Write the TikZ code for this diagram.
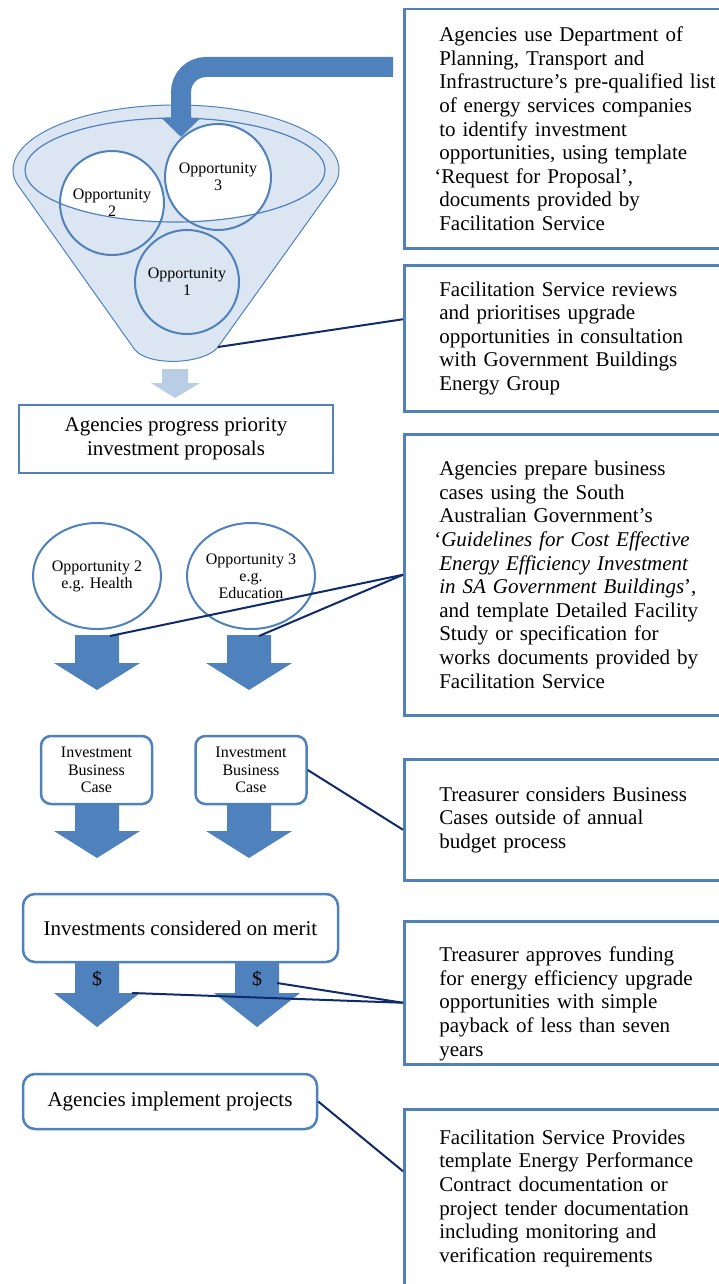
\documentclass[tikz,border=0pt]{standalone}
\usepackage{fontspec}
\setmainfont{Liberation Serif}
\usetikzlibrary{arrows.meta,positioning,shapes.geometric}

\definecolor{accent}{HTML}{4F81BD}
\definecolor{funnelfill}{HTML}{DCE6F2}
\definecolor{pale}{HTML}{B9CDE5}
\definecolor{navy}{HTML}{0F2B6B}

\begin{document}
\begin{tikzpicture}[x=1pt,y=-1pt]
  \tikzset{note/.style={draw=accent, line width=2.5pt, rectangle, align=left,
      text width=300pt, inner xsep=35pt, anchor=north west,
      font=\fontsize{21}{23.6}\selectfont},
    stepbox/.style={draw=accent, line width=2.5pt, rectangle, fill=white,
      align=center, font=\fontsize{21}{23.6}\selectfont},
    roundbox/.style={stepbox, rounded corners=12pt},
    bizcase/.style={draw=accent, line width=2.5pt, rounded corners=10pt, fill=white,
      align=center, minimum width=111pt, minimum height=68pt, inner sep=0pt,
      font=\fontsize{16}{17.5}\selectfont},
    opp/.style={circle, draw=accent, line width=2pt, align=center, inner sep=0pt,
      minimum size=104pt, font=\fontsize{16}{17}\selectfont},
    option/.style={ellipse, draw=accent, line width=2pt, fill=white, align=center,
      inner sep=0pt, minimum width=128pt, minimum height=106pt,
      font=\fontsize{16}{17}\selectfont},
    link/.style={navy, line width=2pt},
    pics/downarrow/.style 2 args={code={
        \fill[accent] (-22,0) -- (22,0) -- (22,#1) -- (43,#1) -- (0,#1+#2)
          -- (-43,#1) -- (-22,#1) -- cycle;}}}
  \useasboundingbox[fill=white] (0,0) rectangle (719,1284);

  % right hand column
  \node[note, minimum height=239pt] (find) at (403,8) {Agencies use Department of\\Planning, Transport and\\Infrastructure’s pre-qualified list\\of energy services companies\\to identify investment\\opportunities, using template\\\hspace*{-5pt}‘Request for Proposal’,\\documents provided by\\Facilitation Service};
  \node[note, minimum height=146pt] (review) at (403,264) {Facilitation Service reviews\\and prioritises upgrade\\opportunities in consultation\\with Government Buildings\\Energy Group};
  \node[note, minimum height=281pt] (prepare) at (403,433) {Agencies prepare business\\cases using the South\\Australian Government’s\\\hspace*{-5pt}‘\textit{Guidelines for Cost Effective}\\\textit{Energy Efficiency Investment}\\\textit{in SA Government Buildings}’,\\and template Detailed Facility\\Study or specification for\\works documents provided by\\Facilitation Service};
  \node[note, minimum height=121pt] (treasurer) at (403,758) {Treasurer considers Business\\Cases outside of annual\\budget process};
  \node[note, minimum height=143pt] (approve) at (403,920) {\rule{0pt}{37pt}Treasurer approves funding\\for energy efficiency upgrade\\opportunities with simple\\payback of less than seven\\years};
  \node[note, minimum height=178pt] (provide) at (403,1108) {Facilitation Service Provides\\template Energy Performance\\Contract documentation or\\project tender documentation\\including monitoring and\\verification requirements};

  % funnel
  \draw[accent, line width=1pt, fill=funnelfill] (13,170)
    arc[start angle=180, end angle=360, x radius=163, y radius=65]
    .. controls (339,178) and (336,183) .. (332,188) -- (218,347)
    .. controls (205,364) and (150,367) .. (135,350) -- (20,188)
    .. controls (16,183) and (13,178) .. (13,170) -- cycle;
  \coordinate (spout) at (218,347);
  \begin{scope}
    \clip (175,170) ellipse [x radius=150, y radius=52];
    \fill[white] (112,203) circle [radius=52];
    \fill[white] (218,177) circle [radius=53];
  \end{scope}
  \node[opp] (oppB) at (112,203) {Opportunity\\2};
  \node[opp, minimum size=106pt] (oppC) at (218,177) {Opportunity\\3};
  \node[opp] (oppA) at (187,282) {Opportunity\\1};
  \draw[accent, line width=1.2pt] (175,170) ellipse [x radius=150, y radius=52];

  \coordinate (feedin) at (393,67);
  \coordinate (mouth) at (181,137);
  \draw[accent, line width=20pt, rounded corners=25pt,
    -{Triangle[width=38pt,length=19pt]}] (feedin) -- (181,67) -- (mouth);
  \fill[pale] (162,369) -- (188,369) -- (188,383) -- (200,383) -- (175,398)
    -- (151,383) -- (162,383) -- cycle;

  % left hand column
  \node[stepbox, minimum width=314pt, minimum height=68pt] (progress) at (176,439) {Agencies progress priority\\investment proposals};

  \node[option] (health) at (97,576) {Opportunity 2\\e.g. Health};
  \node[option, right=24pt of health] (education) {Opportunity 3\\e.g.\\Education};
  \pic (arrA) at (97,635) {downarrow={28}{27}};
  \pic (arrB) at (249,635) {downarrow={28}{27}};
  \coordinate (caseA) at (110,636);
  \coordinate (caseB) at (259,636);

  \node[bizcase] (bizA) at (96.5,770) {Investment\\Business\\Case};
  \node[bizcase, right=41pt of bizA] (bizB) {Investment\\Business\\Case};
  \pic (arrC) at (97,804) {downarrow={27}{27}};
  \pic (arrD) at (249,804) {downarrow={27}{27}};

  \pic (payarrA) at (97,962) {downarrow={31}{34}};
  \pic (payarrB) at (257,962) {downarrow={31}{34}};
  \node[roundbox, minimum width=315pt, minimum height=68pt] (merit) at (180.5,928) {Investments considered on merit};
  \node[font=\fontsize{20}{22}\selectfont] (dollarA) at (97,979) {\$};
  \node[font=\fontsize{20}{22}\selectfont] (dollarB) at (257,979) {\$};
  \coordinate (payA) at (132,993);
  \coordinate (payB) at (277,983);

  \node[roundbox, minimum width=294pt, minimum height=55pt] (implement) at (170,1101.5) {Agencies implement projects};

  % callout lines
  \path[draw, link] ([yshift=19pt]review.west) -- (spout);
  \path[draw, link] (prepare.west) -- (caseA);
  \path[draw, link] (prepare.west) -- (caseB);
  \path[draw, link] (bizB.east) -- ([yshift=-10pt]treasurer.west);
  \path[draw, link] ([yshift=-10pt]approve.west) -- (payA);
  \path[draw, link] ([yshift=-10pt]approve.west) -- (payB);
  \path[draw, link] (implement.east) -- ([yshift=27pt]provide.west);
\end{tikzpicture}
\end{document}
